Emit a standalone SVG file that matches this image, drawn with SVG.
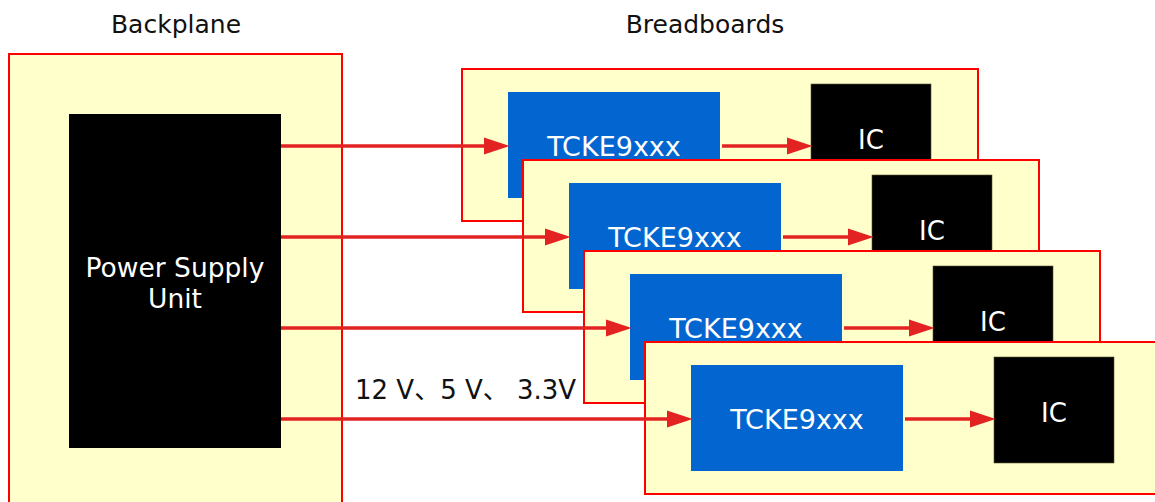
<svg xmlns="http://www.w3.org/2000/svg" width="1155" height="502" viewBox="0 0 1155 502">
<style>
.t{font-family:"DejaVu Sans","Noto Sans CJK JP",sans-serif;}
.title{font-size:25px;fill:#111;text-anchor:middle;}
.panel{fill:#FFFFCC;stroke:#FF0000;stroke-width:2;}
.chip{fill:#0366d0;}
.ic{fill:#000;stroke:#555533;stroke-width:0.6;}
.wt{fill:#fff;text-anchor:middle;}
.conn{stroke:#E32222;stroke-width:3.5;fill:none;marker-end:url(#ah);}
</style>
<defs>
<marker id="ah" markerUnits="userSpaceOnUse" markerWidth="26" markerHeight="18" viewBox="0 0 24 16" refX="4" refY="8" orient="auto">
<path d="M0,0 L24,8 L0,16 z" fill="#E32222"/>
</marker>
</defs>
<text class="t title" x="176" y="33">Backplane</text>
<text class="t title" x="705" y="33">Breadboards</text>
<g id="backplane">
<rect class="panel" x="9" y="54" width="333" height="460"/>
</g>
<g id="psu">
<rect x="69" y="114" width="212" height="334" fill="#000"/>
<text class="t wt" x="175" y="277" font-size="26.5">Power Supply</text>
<text class="t wt" x="175" y="308" font-size="26.5">Unit</text>
</g>
<g id="breadboard1">
<rect class="panel" x="462" y="69" width="516" height="152"/>
<rect class="chip" x="508" y="92" width="212" height="106"/>
<text class="t wt" x="614" y="156" font-size="27">TCKE9xxx</text>
<rect class="ic" x="811" y="84" width="120" height="106"/>
<text class="t wt" x="871" y="149" font-size="26">IC</text>
</g>
<g id="breadboard2">
<rect class="panel" x="523" y="160" width="516" height="152"/>
<rect class="chip" x="569" y="183" width="212" height="106"/>
<text class="t wt" x="675" y="247" font-size="27">TCKE9xxx</text>
<rect class="ic" x="872" y="175" width="120" height="106"/>
<text class="t wt" x="932" y="240" font-size="26">IC</text>
</g>
<g id="breadboard3">
<rect class="panel" x="584" y="251" width="516" height="152"/>
<rect class="chip" x="630" y="274" width="212" height="106"/>
<text class="t wt" x="736" y="338" font-size="27">TCKE9xxx</text>
<rect class="ic" x="933" y="266" width="120" height="106"/>
<text class="t wt" x="993" y="331" font-size="26">IC</text>
</g>
<g id="breadboard4">
<rect class="panel" x="645" y="342" width="516" height="152"/>
<rect class="chip" x="691" y="365" width="212" height="106"/>
<text class="t wt" x="797" y="429" font-size="27">TCKE9xxx</text>
<rect class="ic" x="994" y="357" width="120" height="106"/>
<text class="t wt" x="1054" y="422" font-size="26">IC</text>
</g>
<text class="t" x="355" y="399" font-size="26" fill="#111">12 V、5 V、 3.3V</text>
<g id="connectors">
<line class="conn" x1="281" y1="146" x2="488" y2="146"/>
<line class="conn" x1="281" y1="237" x2="549" y2="237"/>
<line class="conn" x1="281" y1="328" x2="610" y2="328"/>
<line class="conn" x1="281" y1="419" x2="671" y2="419"/>
<line class="conn" x1="722" y1="146" x2="791" y2="146"/>
<line class="conn" x1="783" y1="237" x2="852" y2="237"/>
<line class="conn" x1="844" y1="328" x2="913" y2="328"/>
<line class="conn" x1="905" y1="419" x2="974" y2="419"/>
</g>
</svg>
